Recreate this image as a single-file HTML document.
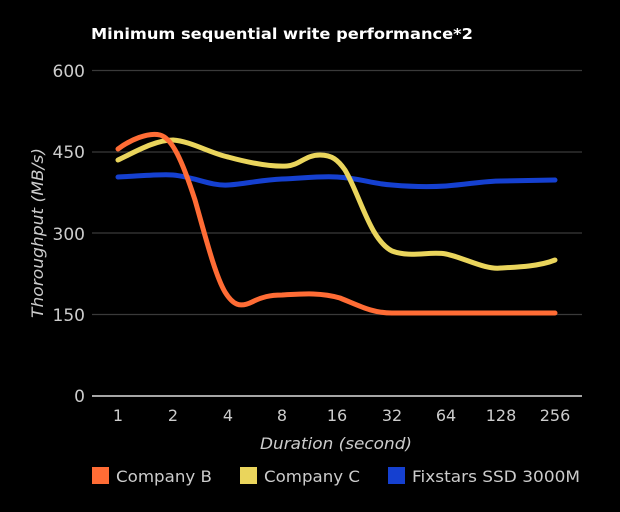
<!DOCTYPE html><html><head><style>body{margin:0;background:#000}</style></head><body>
<svg width="620" height="512" xmlns="http://www.w3.org/2000/svg" style="display:block;background:#000;font-family:'DejaVu Sans','Liberation Sans',sans-serif">
<text x="91" y="39" fill="#fff" font-size="15" font-weight="bold" textLength="382" lengthAdjust="spacingAndGlyphs">Minimum sequential write performance*2</text>
<g stroke="#3a3a3a" stroke-width="1.2">
<line x1="92" y1="70.5" x2="582" y2="70.5"/><line x1="92" y1="152" x2="582" y2="152"/><line x1="92" y1="233" x2="582" y2="233"/><line x1="92" y1="314.5" x2="582" y2="314.5"/></g>
<line x1="92" y1="396" x2="582" y2="396" stroke="#ddd" stroke-width="1.5"/>
<g fill="#ccc" font-size="17" text-anchor="end"><text x="85" y="77">600</text><text x="85" y="158">450</text><text x="85" y="240">300</text><text x="85" y="321">150</text><text x="85" y="402">0</text></g>
<g fill="#ccc" font-size="16" text-anchor="middle"><text x="118" y="421">1</text><text x="173" y="421">2</text><text x="228" y="421">4</text><text x="282" y="421">8</text><text x="337" y="421">16</text><text x="392" y="421">32</text><text x="446" y="421">64</text><text x="501" y="421">128</text><text x="555" y="421">256</text></g>
<text x="260" y="449" fill="#ccc" font-size="16" font-style="italic" textLength="152" lengthAdjust="spacingAndGlyphs">Duration (second)</text>
<text transform="translate(43,318) rotate(-90)" fill="#ccc" font-size="16" font-style="italic" textLength="170" lengthAdjust="spacingAndGlyphs">Thoroughput (MB/s)</text>
<g fill="none" stroke-width="5" stroke-linecap="round">
<path stroke="#1540d0" d="M118,177 C140,176 160,174 173,175 C195,177 210,186 228,185 C245,184 260,180 282,179 C305,178 320,176 337,177 C360,178 372,184 392,185 C415,187 430,187 446,186 C470,184 485,181 501,181 L555,180"/>
<path stroke="#ead55c" d="M118,160 C135,152 155,140 173,140 C190,141 210,153 228,157 C250,163 270,167 287,166 C300,165 305,155 320,155 C332,155 338,160 345,170 C360,195 370,240 392,251 C410,258 430,251 446,254 C465,258 485,270 501,268 C520,267 540,266 555,260"/>
<path stroke="#ff6c35" d="M118,149 C130,140 148,132 160,135 C172,138 182,160 195,200 C205,235 215,275 225,292 C233,305 240,308 252,302 C262,297 270,295 282,295 C300,294 320,292 340,298 C360,306 372,313 392,313 L555,313"/>
</g>
<rect x="92" y="467" width="17" height="17" fill="#ff6c35"/><text x="116" y="482" fill="#ccc" font-size="16" textLength="96" lengthAdjust="spacingAndGlyphs">Company B</text>
<rect x="240" y="467" width="17" height="17" fill="#ead55c"/><text x="264" y="482" fill="#ccc" font-size="16" textLength="96" lengthAdjust="spacingAndGlyphs">Company C</text>
<rect x="388" y="467" width="17" height="17" fill="#1540d0"/><text x="412" y="482" fill="#ccc" font-size="16" textLength="168" lengthAdjust="spacingAndGlyphs">Fixstars SSD 3000M</text>
</svg></body></html>
